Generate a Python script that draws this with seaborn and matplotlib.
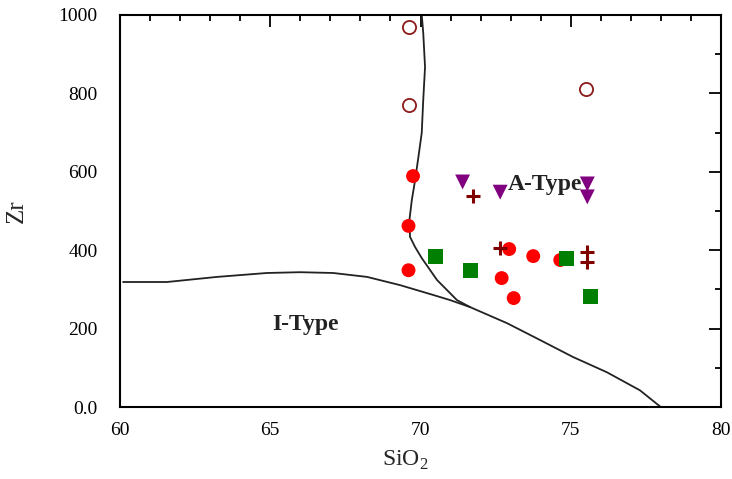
import matplotlib
matplotlib.use("Agg")
import matplotlib.pyplot as plt
import seaborn as sns
import pandas as pd
from matplotlib.ticker import MultipleLocator, FixedLocator

sns.set_theme(style="white")
plt.rcParams['font.family'] = ['Liberation Serif', 'DejaVu Serif']
plt.rcParams['mathtext.fontset'] = 'custom'
plt.rcParams['mathtext.rm'] = 'Liberation Serif'

# --- data ---
open_sio2 = [69.6, 69.6, 75.5]
open_zr = [969, 770, 811]

red_sio2 = [69.75, 69.6, 69.6, 72.95, 73.75, 72.7, 73.1, 74.65]
red_zr = [589, 462, 349, 403, 385, 329, 278, 375]

green_sio2 = [70.5, 71.65, 74.85, 75.65]
green_zr = [385, 349, 380, 281]

tri_sio2 = [71.4, 72.65, 75.55, 75.55]
tri_zr = [574, 548, 569, 536]

plus_sio2 = [71.75, 72.65, 75.55, 75.55]
plus_zr = [538, 405, 395, 370]

# boundary curves
bound_a_x = [70.04, 70.09, 70.15, 70.09, 70.04, 69.93, 69.82, 69.71, 69.63, 69.65, 69.82, 70.04,
             70.55, 71.21, 71.65, 72.88, 73.98, 75.07, 76.2, 77.3, 78.0]
bound_a_y = [1000, 954, 867, 783, 699, 638, 579, 528, 477, 434, 408, 380,
             324, 273, 255, 214, 171, 128, 89, 43, 0]
bound_b_x = [60.1, 61.56, 63.23, 64.89, 65.99, 67.09, 68.22, 69.32, 70.42, 70.98, 71.65]
bound_b_y = [319, 319, 332, 342, 344, 342, 332, 311, 286, 273, 255]

fig = plt.figure(figsize=(7.32, 4.79), dpi=100)
ax = fig.add_axes([0.164, 0.150, 0.821, 0.819])

ba = pd.DataFrame({"x": bound_a_x, "y": bound_a_y})
bb = pd.DataFrame({"x": bound_b_x, "y": bound_b_y})
sns.lineplot(data=ba, x="x", y="y", sort=False, estimator=None, color="#222222", lw=1.3, ax=ax)
sns.lineplot(data=bb, x="x", y="y", sort=False, estimator=None, color="#222222", lw=1.3, ax=ax)

ax.text(66.16, 196, "I-Type", fontsize=17, fontweight="bold", ha="center", va="baseline",
        color="#222222", zorder=2)
ax.text(72.91, 553, "A-Type", fontsize=17, fontweight="bold", ha="left", va="baseline",
        color="#222222", zorder=2)

sns.scatterplot(x=open_sio2, y=open_zr, marker="o", s=90, facecolor="white",
                edgecolor="#8B1A1A", linewidth=1.3, ax=ax, zorder=3)
sns.scatterplot(x=red_sio2, y=red_zr, marker="o", s=100, color="#FF0000",
                edgecolor="none", ax=ax, zorder=3)
sns.scatterplot(x=green_sio2, y=green_zr, marker="s", s=115, color="#007F00",
                edgecolor="none", ax=ax, zorder=3)
sns.scatterplot(x=tri_sio2, y=tri_zr, marker="v", s=115, color="#800080",
                edgecolor="none", ax=ax, zorder=3)
sns.scatterplot(x=plus_sio2, y=plus_zr, marker="+", s=100, color="#800000",
                linewidth=2.2, ax=ax, zorder=3)

ax.set_xlim(60, 80)
ax.set_ylim(0, 1000)
ax.xaxis.set_major_locator(MultipleLocator(5))
ax.xaxis.set_minor_locator(MultipleLocator(1))
ax.yaxis.set_major_locator(FixedLocator([0, 200, 400, 600, 800, 1000]))
ax.yaxis.set_minor_locator(MultipleLocator(100))
ax.set_yticklabels(["0.0", "200", "400", "600", "800", "1000"])
ax.tick_params(which="both", direction="in", top=True, right=True, colors="black",
               labelsize=14, width=1.3)
ax.tick_params(which="major", length=8.5)
ax.tick_params(which="minor", length=4.3)
ax.tick_params(axis="x", which="major", pad=11)
ax.tick_params(axis="y", which="major", pad=16)
for sp in ax.spines.values():
    sp.set_color("black")
    sp.set_linewidth(1.5)

ax.set_xlabel("SiO$_2$", fontsize=17)
ax.xaxis.set_label_coords(0.474, -0.105)
ax.set_ylabel("Zr", fontsize=18)
ax.yaxis.set_label_coords(-0.153, 0.5)

fig.savefig("out.png", dpi=100)
